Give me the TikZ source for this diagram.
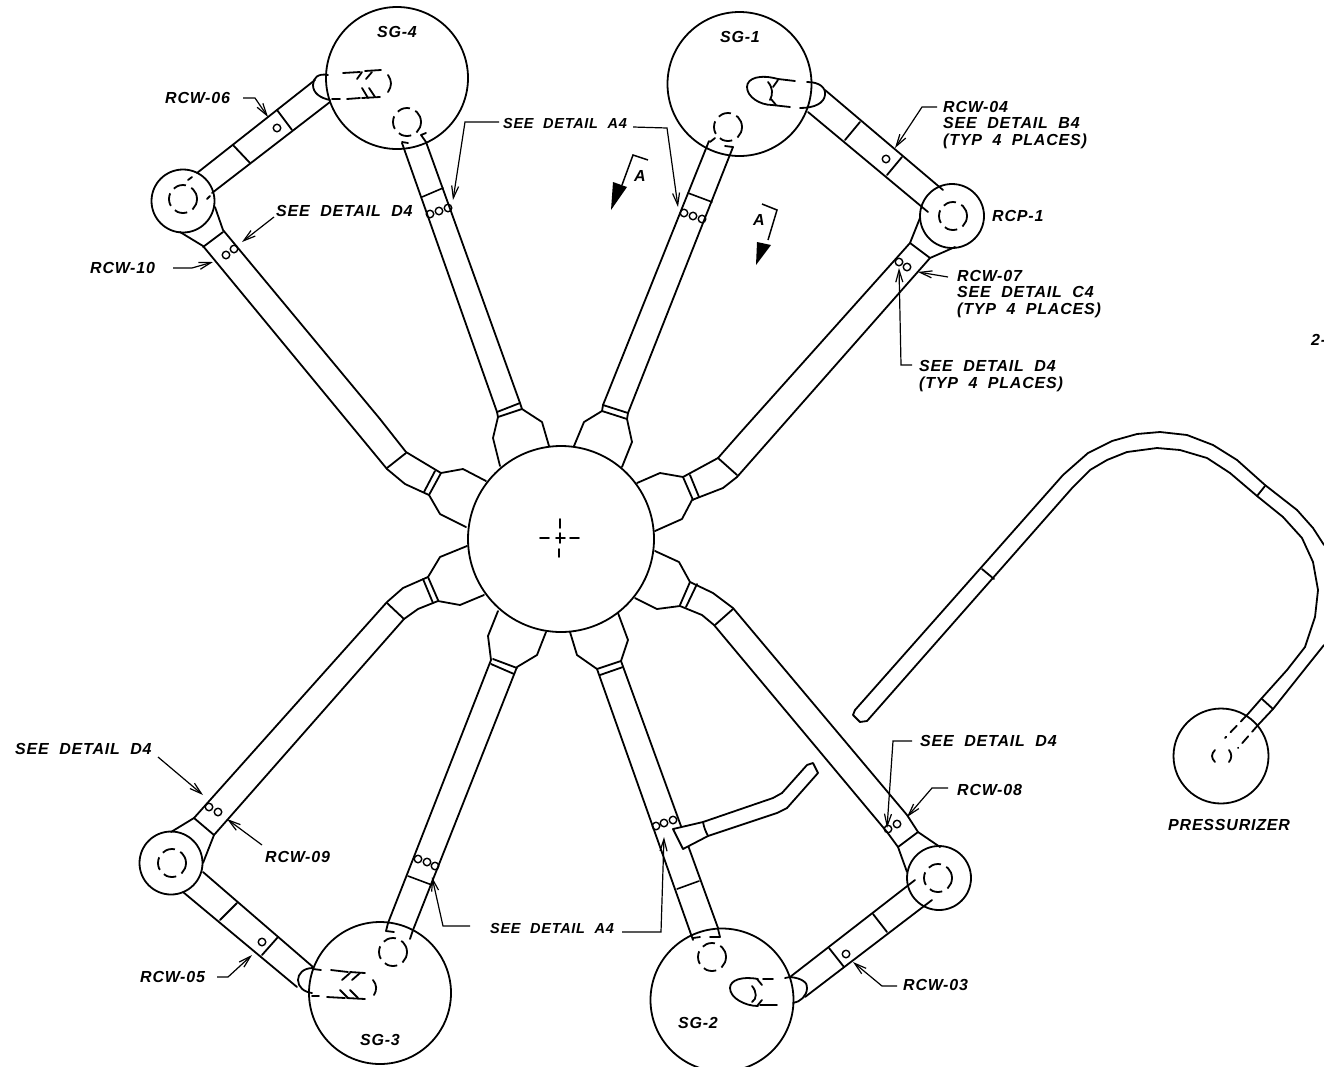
\documentclass[tikz,border=0pt]{standalone}
\usepackage{fontspec}
\setmainfont{Liberation Sans}[LetterSpace=5,WordSpace=2]
\usetikzlibrary{arrows.meta}
\tikzset{
 pipe/.style={line width=1.8pt,line join=round,line cap=round},
 thin pipe/.style={line width=1.6pt,line cap=round},
 vessel/.style={draw,line width=1.8pt,circle,minimum size=#1,inner sep=0pt},
 weld/.style={draw,line width=1.4pt,circle,minimum size=7.5pt,inner sep=0pt},
 dashcirc/.style={line width=1.8pt,dash pattern=on 13pt off 6pt},
 lead/.style={line width=1.2pt,-{Straight Barb[length=12pt,width=7pt,line width=1.2pt]}},
 lab/.style={font=\bfseries\itshape\fontsize{16}{16.7}\selectfont,inner sep=0pt,anchor=west,align=left},
 labsm/.style={lab,font=\bfseries\itshape\fontsize{14.5}{16.7}\selectfont},
 sect/.style={line width=1.5pt}
}
\begin{document}
\begin{tikzpicture}[x=1pt,y=-1pt]
\useasboundingbox (0,0) rectangle (1324,1066);
% vessels
\node[vessel=186pt] (rv) at (561,539) {};
\node[vessel=142pt] (sg4) at (397,78) {};
\node[vessel=144pt] (sg1) at (739.5,84) {};
\node[vessel=142pt] (sg3) at (380,993) {};
\node[vessel=143pt] (sg2) at (722,1000) {};
\node[vessel=63pt] (rcp4) at (183,201) {};
\node[vessel=64pt] (rcp1) at (952,216) {};
\node[vessel=63pt] (rcp3) at (171,863) {};
\node[vessel=64pt] (rcp2) at (939,878) {};
\node[vessel=95pt] (prz) at (1221,756) {};
% reactor centre mark
\draw[thin pipe] (540,538)--(549,538) (556,538)--(565,538) (570,538)--(579,538);
\draw[thin pipe] (560,519)--(560,528) (560,533)--(560,543) (559,549)--(559,557);
% ---- hot legs
\begin{scope}[pipe]
% SG-4
\draw (402,143)--(497,412)--(498,417)--(493,438)--(500,466);
\draw (426,142)--(520,403)--(522,409)--(542,422)--(549,446);
\draw (497,412)--(520,403) (498,417)--(522,409);
\draw[thin pipe] (422,197)--(443,188);
\draw (402,142)--(408,143) (426,142)--(421,135)--(426,133);
% SG-1
\draw (709,141)--(603,405)--(602,411)--(584,422)--(574,446);
\draw (733,147)--(628,413)--(627,419)--(632,442)--(622,467);
\draw (603,405)--(628,413) (602,411)--(627,419);
\draw[thin pipe] (688,193)--(712,202);
\draw (710,142)--(715,138) (733,147)--(725,146);
% SG-3
\draw (388,923)--(491,660)--(488,636)--(498,611);
\draw (413,930)--(517,667)--(537,655)--(546,632);
\draw (493,659)--(517,668) (491,664)--(514,674);
\draw[thin pipe] (408,876)--(432,885);
\draw (388,923)--(386,931)--(394,932) (413,930)--(410,939);
% SG-2
\draw (693,940)--(597,669)--(577,655)--(570,632);
\draw (718,928)--(621,661)--(628,640)--(618,613);
\draw (597,669)--(621,661) (600,675)--(623,667);
\draw[thin pipe] (677,889)--(699,881);
\draw (693,938)--(700,937) (710,937)--(720,937)--(718,929);
% ---- cold legs
% upper left
\draw (215,207)--(223,230)--(380,419)--(406,452)--(441,473)--(463,469)--(486,481);
\draw (180,232)--(203,246)--(387,469)--(405,484)--(429,495)--(440,514)--(466,527);
\draw (203,247)--(223,232) (406,453)--(387,468);
\draw (441,473)--(429,495) (435,471)--(424,492);
% upper right
\draw (920,218)--(910,243)--(740,433)--(718,458)--(683,477)--(660,473)--(637,483);
\draw (955,247)--(930,258)--(737,477)--(723,488)--(692,500)--(682,519)--(655,531);
\draw (910,243)--(930,258) (718,458)--(737,475);
\draw (683,477)--(693,500) (690,475)--(699,497);
% lower left
\draw (171,832)--(194,818)--(387,602)--(403,588)--(428,577)--(440,557)--(467,546);
\draw (203,863)--(214,835)--(404,619)--(418,609)--(438,601)--(460,605)--(484,595);
\draw (194,818)--(214,835) (387,603)--(404,619);
\draw (423,579)--(433,603) (428,577)--(438,600);
% lower right
\draw (940,847)--(918,832)--(907,815)--(733,608)--(713,593)--(690,582)--(679,562)--(655,551);
\draw (907,872)--(898,847)--(887,832)--(714,625)--(702,615)--(680,606)--(657,609)--(635,598);
\draw (898,847)--(918,832) (733,609)--(715,625);
\draw (690,582)--(680,605) (697,584)--(686,607);
% ---- crossovers
% RCP-4 / SG-4
\draw (197,173)--(315,80) (212,193)--(330,102);
\draw (188,180)--(192,177) (207,199)--(210,196);
\draw (233,145)--(250,163) (277,110)--(292,130);
\draw (328,75) .. controls (318,73) and (313,78) .. (313,85) .. controls (313,93) and (320,98) .. (330,100);
\draw (343,73)--(360,72) (365,71)--(381,70) (332,99)--(340,99) (347,99)--(360,98) (362,98)--(380,97);
\draw (357,79)--(362,72) (366,79)--(372,72) (362,88)--(368,98) (369,88)--(375,97);
\draw (388,75)..controls (392,81) and (392,86)..(388,92);
% RCP-1 / SG-1
\draw (825,90)--(943,190) (808,112)--(928,212);
\draw (860,122)--(845,140) (902,157)--(887,175);
\draw (807,82) .. controls (820,82) and (826,88) .. (825,95) .. controls (824,103) and (815,108) .. (800,108);
\draw (795,81)--(778,79) (790,107)--(772,105);
\draw (778,79) .. controls (760,74) and (747,78) .. (747,87) .. controls (747,97) and (760,105) .. (772,105);
\draw (768,82)..controls (773,88) and (773,94)..(770,100);
\draw (778,80)--(773,87) (776,105)--(771,99);
% RCP-3 / SG-3
\draw (203,872)--(313,967) (183,892)--(297,987);
\draw (237,903)--(220,920) (278,937)--(262,955);
\draw (313,968) .. controls (303,968) and (298,974) .. (298,980) .. controls (298,987) and (304,992) .. (312,993);
\draw (313,969)--(321,970) (331,970)--(348,972) (350,972)--(365,973) (312,996)--(319,996) (327,997)--(345,998) (347,998)--(365,999);
\draw (342,980)--(350,973) (352,980)--(360,973) (340,990)--(348,998) (350,990)--(358,998);
\draw (373,980)..controls (377,985) and (377,990)..(374,995);
% RCP-2 / SG-2
\draw (790,977)--(915,880) (805,997)--(932,900);
\draw (829,948)--(844,967) (873,914)--(887,932);
\draw (785,978)--(790,977) .. controls (802,978) and (808,983) .. (807,988) .. controls (807,996) and (800,1002) .. (793,1003);
\draw (763,979)--(773,979) (760,1005)--(777,1005);
\draw (758,979) .. controls (742,976) and (730,980) .. (730,988) .. controls (730,998) and (745,1006) .. (758,1006);
\draw (752,986)..controls (757,992) and (757,999)..(752,1002);
\draw (757,979)--(762,985) (757,1006)--(762,1000);
% pressurizer surge line
\draw[fill=white] (673,829)--(703,822)--(773,798)--(782,793)--(807,765)--(813,763)--(818,773)--(787,808)--(777,813)--(708,836)--(683,849)--cycle;
\draw (703,822)..controls (704,828) and (706,832)..(708,836);
\draw (855,710)--(1063,475)--(1088,453)--(1112,441)--(1137,434)--(1160,432)--(1187,435)--(1213,445)--(1237,460)--(1265,485)--(1297,510)--(1313,528)--(1324,545);
\draw (1324,645)--(1308,665)--(1273,709)--(1258,725);
\draw (855,710)--(853,715)--(860,722)--(867,721)--(1073,487)--(1090,470)--(1107,460)--(1127,452)--(1157,448)--(1180,450)--(1207,458)--(1230,473)--(1257,496)--(1283,517)--(1302,538)--(1313,562)--(1318,590)--(1315,617)--(1305,647)--(1287,670)--(1261,699)--(1247,715);
\draw (982,569)--(994,579) (1265,486)--(1257,496) (1262,699)--(1273,709);
\draw[dash pattern=on 9pt off 6pt] (1247,715)--(1225,738) (1258,725)--(1238,748);
\draw (1215,750)..controls (1211,754) and (1211,758)..(1215,762);
\draw (1229,750)..controls (1232,754) and (1232,758)..(1229,762);
\end{scope}
% dashed inner circles
\foreach \p/\r in {183/199,953/216,938/878,172/863,407/122,728/127,393/952,712/957}{
 \pgfmathsetmacro{\cx}{\p}\pgfmathsetmacro{\cy}{\r}
 \draw[dashcirc] (\cx,\cy) circle[radius=14pt];
}
% weld circles
\foreach \n/\x/\y in {a/277/128,b/886/159,c/262/942,d/846/954,
 e/430/214,f/439/211,g/448/208,h/684/213,i/693/216,j/702/219,
 k/418/859,l/427/862,m/435/866,n/656/826,o/664/823,p/673/820,
 q/226/255,r/234/249,s/899/262,t/907/267,u/209/807,v/218/812,w/888/829,z/897/824}{
 \node[weld] (w\n) at (\x,\y) {};
}
% labels
\node[lab,anchor=center] (tsg4) at (397,32) {SG-4};
\node[lab,anchor=center] (tsg1) at (740,37) {SG-1};
\node[lab,anchor=center] (tsg3) at (380,1040) {SG-3};
\node[lab,anchor=center] (tsg2) at (698,1023) {SG-2};
\node[lab] (t06) at (165,98) {RCW-06};
\node[labsm] (ta4t) at (503,124) {SEE DETAIL A4};
\node[lab] (td4tl) at (276,211) {SEE DETAIL D4};
\node[lab] (t10) at (90,268) {RCW-10};
\node[lab] (t04) at (943,125) {RCW-04\\SEE DETAIL B4\\(TYP 4 PLACES)};
\node[lab] (trcp) at (992,216) {RCP-1};
\node[lab] (t07) at (957,294) {RCW-07\\SEE DETAIL C4\\(TYP 4 PLACES)};
\node[lab] (td4) at (919,376) {SEE DETAIL D4\\(TYP 4 PLACES)};
\node[lab] (two) at (1311,340) {2-};
\node[lab] (td4br) at (920,741) {SEE DETAIL D4};
\node[lab] (t08) at (957,790) {RCW-08};
\node[lab] (tprz) at (1168,825) {PRESSURIZER};
\node[lab] (td4l) at (15,749) {SEE DETAIL D4};
\node[lab] (t09) at (265,857) {RCW-09};
\node[labsm] (ta4b) at (490,928) {SEE DETAIL A4};
\node[lab] (t05) at (140,977) {RCW-05};
\node[lab] (t03) at (903,985) {RCW-03};
\node[lab,anchor=center] (tal) at (640,176) {A};
\node[lab,anchor=center] (tar) at (759,220) {A};
% leaders
\coordinate (e06) at (268,117);
\draw[lead] (243,98)--(255,98)--(e06);
\coordinate (e4a) at (453,200);
\draw[lead] (ta4t.west)++(-4,-2)--(465,122)--(e4a);
\coordinate (e4b) at (678,207);
\draw[lead] (ta4t.east)++(6,3)--(667,128)--(e4b);
\coordinate (ed4) at (242,242);
\draw[lead] (td4tl.west)++(-2,6)--(ed4);
\coordinate (e10) at (213,262);
\draw[lead] (173,268)--(192,268)--(e10);
\coordinate (e04) at (895,148);
\draw[lead] (937,107)--(922,107)--(e04);
\coordinate (e07) at (918,272);
\draw[lead] (948,277)--(e07);
\coordinate (ed7) at (899,268);
\draw[lead] (912,365)--(901,365)--(ed7);
\coordinate (ebr) at (887,828);
\draw[lead] (td4br.west)++(-8,0)--(893,741)--(ebr);
\coordinate (e08) at (907,817);
\draw[lead] (t08.west)++(-9,-2)--(932,788)--(e08);
\coordinate (e03) at (853,962);
\draw[lead] (t03.west)++(-6,1)--(882,986)--(e03);
\coordinate (e09) at (227,819);
\draw[lead] (262,845)--(e09);
\coordinate (e05) at (252,955);
\draw[lead] (217,977)--(228,977)--(e05);
\coordinate (edl) at (203,795);
\draw[lead] (158,757)--(edl);
\coordinate (ea4l) at (432,877);
\draw[lead] (ta4b.west)++(-20,-2)--(443,926)--(ea4l);
\coordinate (ea4r) at (664,837);
\draw[lead] (ta4b.east)++(8,4)--(661,932)--(ea4r);
% section marks
\coordinate (sl) at (622,185);
\draw[sect] (648,160)--(633,155)--(sl);
\fill (613,182)--(627,187)--(611,210)--cycle;
\coordinate (sr) at (768,240);
\draw[sect] (762,204)--(777,210)--(sr);
\fill (771,245)--(757,242)--(756,265)--cycle;
\end{tikzpicture}
\end{document}
